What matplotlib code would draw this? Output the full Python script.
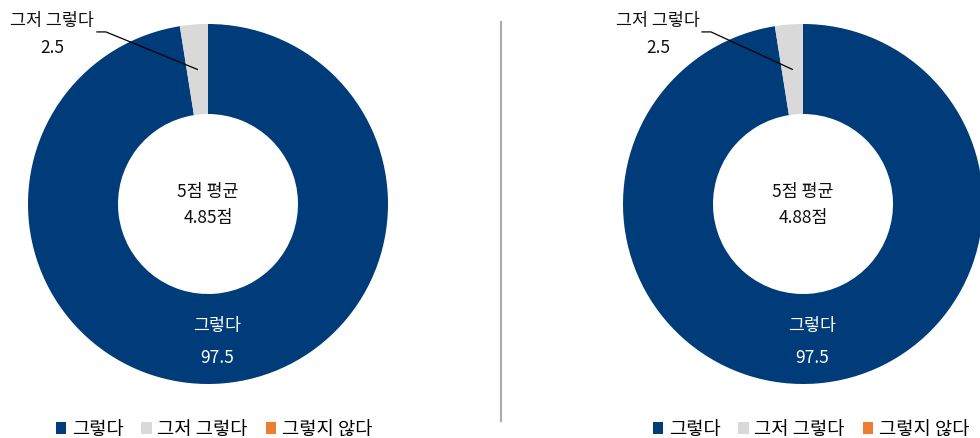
import numpy as np
import matplotlib.pyplot as plt
from matplotlib.patches import Patch

plt.rcParams['font.family'] = ['Noto Sans CJK KR', 'DejaVu Sans']

categories = ['그렇다', '그저 그렇다', '그렇지 않다']
colors = ['#003b7a', '#d9d9d9', '#ed7d31']
left_vals = [97.5, 2.5, 0.0]
right_vals = [97.5, 2.5, 0.0]
left_mean = 4.85
right_mean = 4.88

W, H = 980, 439
fig = plt.figure(figsize=(W / 100, H / 100), dpi=100)

R = 180  # pixel radius


def donut(cx, cy, vals, mean, elbow_x, text_x):
    ax = fig.add_axes([(cx - R) / W, (H - cy - R) / H, 2 * R / W, 2 * R / H])
    ax.pie(vals, colors=colors, startangle=90, counterclock=False,
           radius=1.0, wedgeprops=dict(width=0.5, linewidth=0))
    ax.set_xlim(-1, 1)
    ax.set_ylim(-1, 1)
    ax.set_aspect('equal')
    ax.axis('off')

    ax.text(0, 0.072, '5점 평균', ha='center', va='center', fontsize=12.5, color='#111111')
    ax.text(0, -0.072, f'{mean:.2f}점', ha='center', va='center', fontsize=12.5, color='#111111')

    ax.text(0.05, -0.675, categories[0], ha='center', va='center', fontsize=12.5, color='white')
    ax.text(0.05, -0.85, f'{vals[0]:g}', ha='center', va='center', fontsize=12.5, color='white')

    # leader line to the small slice
    mid = np.deg2rad(90 - 360 * (vals[0] + vals[1] / 2) / sum(vals))
    px, py = 0.75 * np.cos(mid), 0.75 * np.sin(mid)
    ly = 0.956
    ax.plot([px, elbow_x, elbow_x - 0.05], [py, ly, ly], color='black', lw=0.9,
            clip_on=False)
    ax.text(text_x, 1.02, categories[1], ha='center', va='center', fontsize=12.5,
            color='#111111', clip_on=False)
    ax.text(text_x, 0.87, f'{vals[1]:g}', ha='center', va='center', fontsize=12.5,
            color='#111111', clip_on=False)
    return ax


donut(208, 205, left_vals, left_mean, -0.567, -0.867)
donut(803, 205, right_vals, right_mean, -0.511, -0.806)

# separator
fig.add_artist(plt.Line2D([500.5 / W, 500.5 / W], [1 - 23 / H, 1 - 422 / H],
                          color='#ababab', lw=1.5))

handles = [Patch(facecolor=c, edgecolor='none') for c in colors]
for lx in [214, 811]:
    fig.legend(handles, categories, loc='center', bbox_to_anchor=(lx / W, 1 - 430 / H),
               ncol=3, frameon=False, fontsize=13.5, handlelength=0.55, handleheight=0.55,
               handletextpad=0.3, columnspacing=0.95)

fig.savefig('out.png', dpi=100)
